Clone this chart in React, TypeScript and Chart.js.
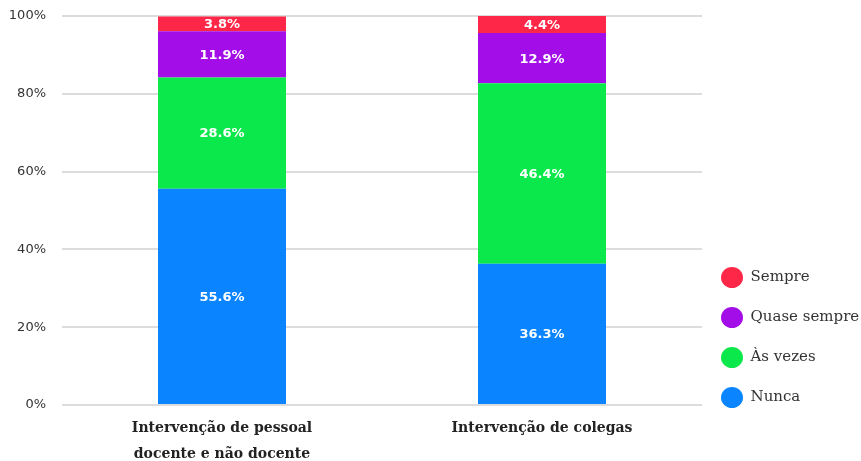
import React, { useEffect, useRef } from "react";
import { Chart, registerables } from "chart.js";

Chart.register(...registerables);

const categories: (string | string[])[] = [
  ["Intervenção de pessoal", "docente e não docente"],
  "Intervenção de colegas",
];
const seriesNames = ["Nunca", "Às vezes", "Quase sempre", "Sempre"];
const nunca = [55.6, 36.3];
const asVezes = [28.6, 46.4];
const quaseSempre = [11.9, 12.9];
const sempre = [3.8, 4.4];
const seriesColors = ["#0A85FF", "#0BE84B", "#A20DE8", "#FF2747"];
const yTicks = [0, 20, 40, 60, 80, 100];

const valueLabelPlugin = {
  id: "valueLabels",
  afterDatasetsDraw(chart: any) {
    const ctx = chart.ctx;
    ctx.save();
    ctx.font = 'bold 13px "DejaVu Sans"';
    ctx.fillStyle = "#ffffff";
    ctx.textAlign = "center";
    ctx.textBaseline = "middle";
    chart.data.datasets.forEach((ds: any, i: number) => {
      const meta = chart.getDatasetMeta(i);
      meta.data.forEach((bar: any, j: number) => {
        const v = ds.data[j];
        const { x, y, base } = bar.getProps(["x", "y", "base"], true);
        ctx.fillText(v.toFixed(1) + "%", x, (y + base) / 2 + 1);
      });
    });
    ctx.restore();
  },
};

const legendShiftPlugin = {
  id: "legendShift",
  afterLayout(chart: any) {
    const l = chart.legend;
    if (!l) return;
    l.top -= 31;
    l.bottom -= 31;
    l.left -= 6;
  },
};

export default function App() {
  const ref = useRef<HTMLCanvasElement | null>(null);
  useEffect(() => {
    if (!ref.current) return;
    const series = [nunca, asVezes, quaseSempre, sempre];
    const chart = new Chart(ref.current, {
      type: "bar",
      data: {
        labels: categories as any,
        datasets: series.map((d, i) => ({
          label: seriesNames[i],
          data: d,
          backgroundColor: seriesColors[i],
          borderWidth: 0,
          barPercentage: 0.4,
          categoryPercentage: 1,
        })),
      },
      options: {
        responsive: false,
        animation: false,
        layout: { padding: { top: 16, left: 0, right: 0, bottom: 0 } },
        plugins: {
          tooltip: { enabled: false },
          legend: {
            position: "right",
            align: "end",
            reverse: true,
            maxWidth: 159,
            labels: {
              usePointStyle: true,
              pointStyle: "circle",
              pointStyleWidth: 22,
              padding: 25,
              color: "#333333",
              font: { family: "DejaVu Serif", size: 15 },
            },
          },
        },
        scales: {
          x: {
            stacked: true,
            grid: { display: false, drawTicks: false },
            border: { display: false },
            ticks: {
              autoSkip: false,
              maxRotation: 0,
              padding: 10,
              color: "#222222",
              font: { family: "DejaVu Serif", size: 14, weight: "bold", lineHeight: 1.857 },
            },
            afterFit: (s: any) => {
              s.height = 56;
              s.paddingLeft = 0;
              s.paddingRight = 0;
            },
          },
          y: {
            stacked: true,
            min: 0,
            max: 100,
            afterBuildTicks: (s: any) => {
              s.ticks = yTicks.map((v) => ({ value: v }));
            },
            ticks: {
              padding: 16,
              color: "#333333",
              font: { family: "DejaVu Sans", size: 13 },
              callback: (v: any) => v + "%",
            },
            grid: { color: "#dcdcdc", lineWidth: 2, drawTicks: false },
            border: { display: false },
            afterFit: (s: any) => {
              s.width = 62;
              s.paddingTop = 0;
              s.paddingBottom = 0;
            },
          },
        },
      },
      plugins: [valueLabelPlugin, legendShiftPlugin],
    } as any);
    return () => chart.destroy();
  }, []);
  return (
    <div style={{ position: "absolute", left: 0, top: 0, width: 861, height: 461 }}>
      <canvas ref={ref} width={861} height={461} style={{ display: "block" }} />
    </div>
  );
}
